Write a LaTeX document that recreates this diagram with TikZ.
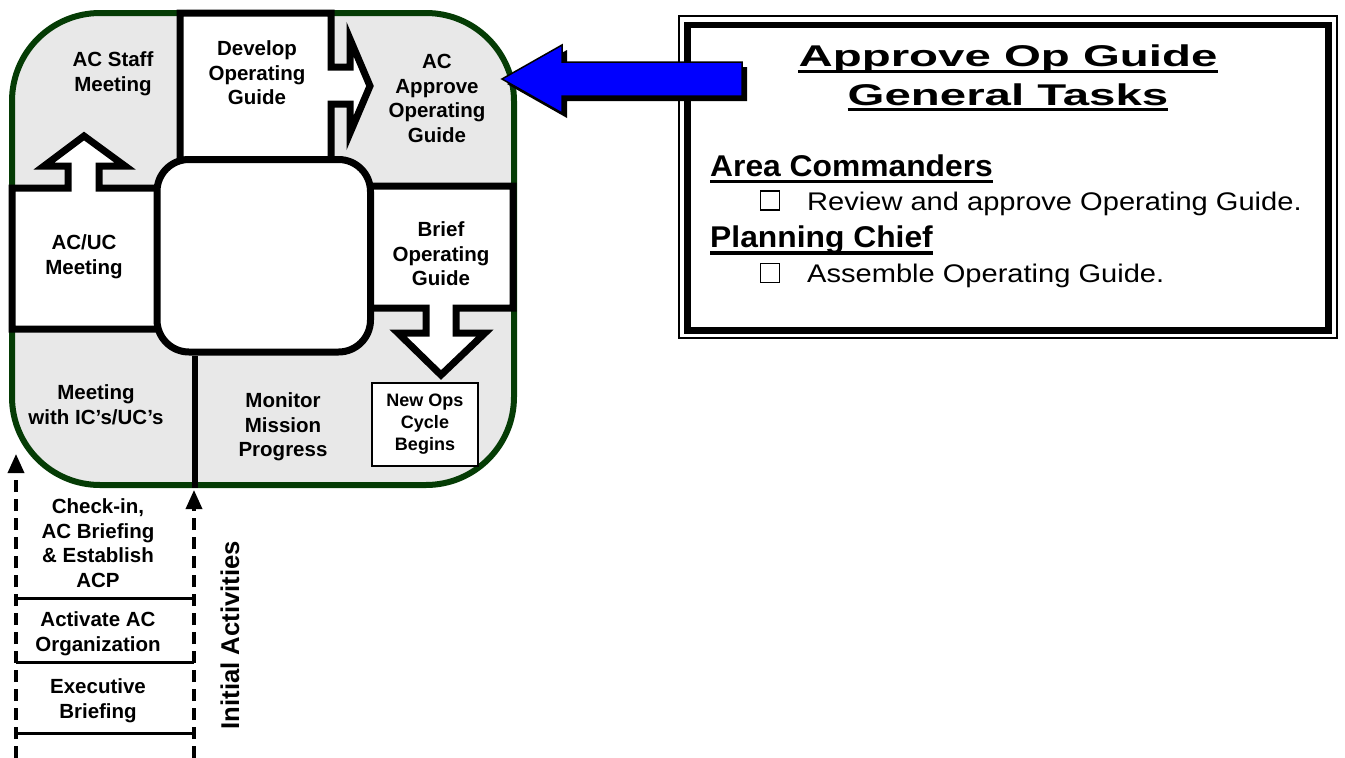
\documentclass[tikz,border=0pt]{standalone}
\usepackage{fontspec}
\setmainfont{Liberation Sans}
\usepackage{graphicx}
\usetikzlibrary{arrows.meta,calc}
\definecolor{frameg}{RGB}{5,60,5}
\definecolor{panelgray}{RGB}{232,232,232}
\definecolor{arrowblue}{RGB}{0,0,255}
\begin{document}
\begin{tikzpicture}[x=1pt,y=-1pt,
  lab/.style={font=\fontsize{20.5}{24.6}\selectfont\bfseries, align=center, inner sep=0pt},
  smalllab/.style={font=\fontsize{18}{22}\selectfont\bfseries, align=center, inner sep=0pt},
  blk/.style={draw=black, line width=7pt, fill=white, line join=miter, miter limit=10},
  dsh/.style={draw=black, line width=3.5pt, dash pattern=on 12pt off 7pt},
  sep/.style={draw=black, line width=3pt},
  tip/.style={-{Triangle[length=19pt,width=16pt]}},
  head/.style={inner sep=0pt, anchor=base, font=\fontsize{30}{36}\selectfont\bfseries},
  role/.style={inner sep=0pt, anchor=base west, font=\fontsize{30}{36}\selectfont\bfseries},
  task/.style={inner sep=0pt, anchor=base west, font=\fontsize{25.5}{30}\selectfont},
  uline/.style={line width=3.5pt},
  cbox/.style={draw=black, line width=1.5pt}]
\useasboundingbox (0,0) rectangle (1345,758);

% outer frame
\draw[fill=panelgray, draw=frameg, line width=6pt, rounded corners=88pt] (12,13) rectangle (514,485);

% Develop box with right arrow
\draw[blk] (180,13) -- (331,13) -- (331,67) -- (350,67) -- (350,39) -- (370,86) -- (350,133) -- (350,104) -- (331,104) -- (331,160) -- (180,160) -- cycle;
% AC/UC box with up arrow
\draw[blk] (12,188) -- (68,188) -- (68,166) -- (44,166) -- (84,136) -- (125,166) -- (99,166) -- (99,188) -- (160,188) -- (160,329) -- (12,329) -- cycle;
% Brief box with down arrow
\draw[blk] (365,186) -- (513,186) -- (513,308) -- (456,308) -- (456,333) -- (485,333) -- (441,375) -- (398,333) -- (426,333) -- (426,308) -- (365,308) -- cycle;
% centre box
\node[draw=black, line width=7pt, fill=white, rounded corners=32pt, minimum width=213.5pt, minimum height=192.5pt, inner sep=0pt] (centre) at (263.75,255.75) {};
\coordinate (vbot) at (195,488);
\draw[line width=6pt] (centre.south -| vbot) -- (vbot);

% New Ops box
\node[draw=black, line width=2.5pt, fill=white, minimum width=106pt, minimum height=83pt, inner sep=0pt] (newops) at (425,424.5) {};
\node[smalllab] (newopst) at (425,424.5) {New Ops\\Cycle\\Begins};

% labels
\node[lab] (staff) at (113,74) {AC Staff\\Meeting};
\node[lab] (develop) at (257,73) {Develop\\Operating\\Guide};
\node[lab] (approve) at (437,98.5) {AC\\Approve\\Operating\\Guide};
\node[lab] (acuc) at (84,257) {AC/UC\\Meeting};
\node[lab] (brief) at (441,254) {Brief\\Operating\\Guide};
\node[lab] (icuc) at (96,405) {Meeting\\with IC’s/UC’s};
\node[lab] (monitor) at (283,427) {Monitor\\Mission\\Progress};

% initial activities
\coordinate (lbot) at (16,758);
\coordinate (ltop) at (16,454);
\coordinate (rbot) at (194,758);
\coordinate (rtop) at (194,490);
\draw[dsh, tip] (lbot) -- (ltop);
\draw[dsh, tip] (rbot) -- (rtop);
\coordinate (s1l) at (16,598); \coordinate (s1r) at (194,598);
\coordinate (s2l) at (16,662); \coordinate (s2r) at (194,662);
\coordinate (s3l) at (16,733); \coordinate (s3r) at (194,733);
\draw[sep] (s1l) -- (s1r);
\draw[sep] (s2l) -- (s2r);
\draw[sep] (s3l) -- (s3r);
\node[lab] (checkin) at (98,543) {Check-in,\\AC Briefing\\\& Establish\\ACP};
\node[lab] (activate) at (98,634) {Activate AC\\Organization};
\node[lab] (exec) at (98,701) {Executive\\Briefing};
\node[inner sep=0pt, rotate=90, font=\fontsize{25.7}{30}\selectfont\bfseries] (initial) at (230,635) {Initial Activities};

% right panel
\draw[black, line width=1.5pt] (679,16) rectangle (1337,338);
\draw[black, line width=6.5pt] (687.5,25) rectangle (1328.5,330.5);
\node[head] (h1) at (1008,66.7) {\scalebox{1.58}[1]{Approve Op Guide}};
\draw[uline] ($(h1.base west)+(0,5)$) -- ($(h1.base east)+(0,5)$);
\node[head] (h2) at (1008,105) {\scalebox{1.58}[1]{General Tasks}};
\draw[uline] ($(h2.base west)+(0,4.5)$) -- ($(h2.base east)+(0,4.5)$);
\node[role] (r1) at (710,176.7) {\scalebox{1.06}[1]{Area Commanders}};
\draw[uline] ($(r1.base west)+(0,5)$) -- ($(r1.base east)+(0,5)$);
\node[cbox, minimum width=19pt, minimum height=19pt, inner sep=0pt] (c1) at (770,200.5) {};
\node[task] (t1) at (807,210.3) {\scalebox{1.14}[1]{Review and approve Operating Guide.}};
\node[role] (r2) at (710,247.5) {\scalebox{1.06}[1]{Planning Chief}};
\draw[uline] ($(r2.base west)+(0,5.5)$) -- ($(r2.base east)+(0,5.5)$);
\node[cbox, minimum width=19pt, minimum height=19pt, inner sep=0pt] (c2) at (770,273) {};
\node[task] (t2) at (807,282) {\scalebox{1.14}[1]{Assemble Operating Guide.}};

% blue arrow with shadow
\fill[black] (507,84) -- (567,50) -- (567,67) -- (747,67) -- (747,101) -- (567,101) -- (567,118) -- cycle;
\draw[fill=arrowblue, draw=black, line width=1.5pt] (502,79) -- (562,45) -- (562,62) -- (742,62) -- (742,96) -- (562,96) -- (562,113) -- cycle;
\end{tikzpicture}
\end{document}
